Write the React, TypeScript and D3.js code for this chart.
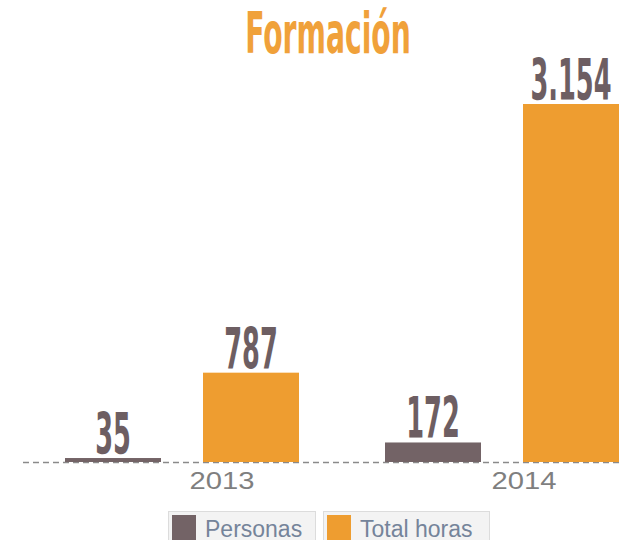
import React from 'react';
import * as d3 from 'd3';

// datos
const years = ['2013', '2014'];
const seriesKeys = ['Personas', 'Total horas'];
const personas = [35, 172];
const totalHoras = [787, 3154];
const valueLabels = [['35', '787'], ['172', '3.154']];
const title = 'Formación';

const colors = ['#736366', '#EE9D30'];

export default function App() {
  const width = 623;
  const height = 540;
  const baseY = 462;
  const topY = 104;

  // escalas
  const x0 = d3.scaleBand().domain(years).range([65, 705]).padding(0);
  const x1 = d3.scaleBand().domain(seriesKeys).range([0, 234]).paddingInner(42 / 138).paddingOuter(0);
  const y = d3.scaleLinear().domain([0, 3154]).range([baseY, topY]);

  const values = [personas, totalHoras];

  const condensed = "'DejaVu Sans Condensed', 'DejaVu Sans', sans-serif";

  const bars = years.map((yr, yi) => (
    <g key={yr} transform={`translate(${x0(yr)},0)`}>
      {seriesKeys.map((k, si) => {
        const v = values[si][yi];
        const bx = x1(k)!;
        const bw = x1.bandwidth();
        return (
          <g key={k}>
            <rect x={bx} y={y(v)} width={bw} height={baseY - y(v)} fill={colors[si]} />
            <text
              transform={`translate(${bx + bw / 2},${y(v) - 4}) scale(0.5,1)`}
              textAnchor="middle"
              fontFamily={condensed}
              fontWeight="bold"
              fontSize={57}
              fill="#6d5e62"
            >{valueLabels[yi][si]}</text>
          </g>
        );
      })}
    </g>
  ));

  const yearLabels = years.map((yr, i) => (
    <text
      key={yr}
      transform={`translate(${x0(yr)! + [157, 139][i]},489) scale(1.27,1)`}
      textAnchor="middle"
      fontFamily="'Liberation Sans', Arial, sans-serif"
      fontSize={23}
      fill="#7f7f7f"
    >{yr}</text>
  ));

  const legend = [
    { label: seriesKeys[0], x: 168, w: 147 },
    { label: seriesKeys[1], x: 323, w: 166 },
  ].map((d, i) => (
    <g key={d.label} transform={`translate(${d.x},511)`}>
      <rect x={0.5} y={0.5} width={d.w} height={40} fill="#f3f3f3" stroke="#dcdcdc" />
      <rect x={4} y={4} width={24} height={36} fill={colors[i]} />
      <text x={37} y={26} fontFamily="'Liberation Sans', Arial, sans-serif" fontSize={23} fill="#75849a">{d.label}</text>
    </g>
  ));

  return (
    <svg width={width} height={height} style={{ position: 'absolute', left: 0, top: 0, background: '#fff' }}>
      <text
        transform={`translate(328,53) scale(0.56,1)`}
        textAnchor="middle"
        fontFamily={condensed}
        fontWeight="bold"
        fontSize={56}
        fill="#F0A13A"
      >{title}</text>
      <line x1={23} x2={623} y1={baseY + 0.5} y2={baseY + 0.5} stroke="#8a8a8a" strokeWidth={1.5} strokeDasharray="6,4" />
      {bars}
      {yearLabels}
      {legend}
    </svg>
  );
}
